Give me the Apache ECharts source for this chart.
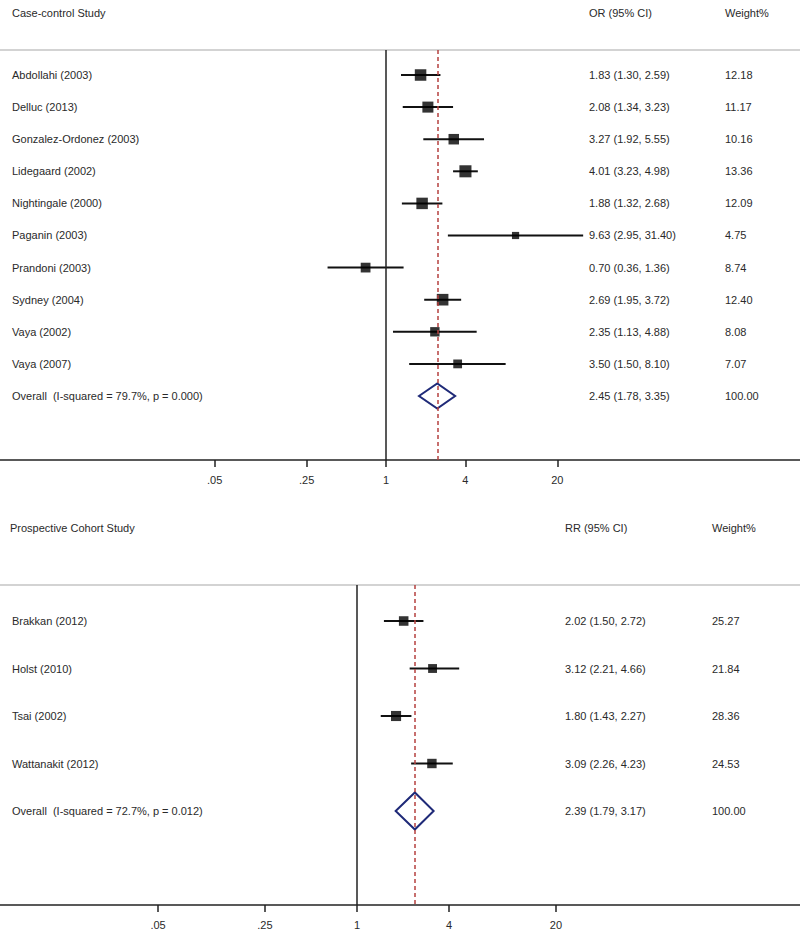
<!DOCTYPE html>
<html>
<head>
<meta charset="utf-8">
<script src="https://cdn.jsdelivr.net/npm/echarts@6/dist/echarts.min.js"></script>
<style>html,body{margin:0;padding:0;background:#fff}#c{width:800px;height:931px}</style>
</head>
<body>
<div id="c"></div>
<script>
// ---------- data ----------
const caseStudies = ['Abdollahi (2003)', 'Delluc (2013)', 'Gonzalez-Ordonez (2003)', 'Lidegaard (2002)', 'Nightingale (2000)', 'Paganin (2003)', 'Prandoni (2003)', 'Sydney (2004)', 'Vaya (2002)', 'Vaya (2007)'];
const caseOR = [1.83, 2.08, 3.27, 4.01, 1.88, 9.63, 0.70, 2.69, 2.35, 3.50];
const caseLo = [1.30, 1.34, 1.92, 3.23, 1.32, 2.95, 0.36, 1.95, 1.13, 1.50];
const caseHi = [2.59, 3.23, 5.55, 4.98, 2.68, 31.40, 1.36, 3.72, 4.88, 8.10];
const caseWeight = [12.18, 11.17, 10.16, 13.36, 12.09, 4.75, 8.74, 12.40, 8.08, 7.07];
const caseOverallLabel = 'Overall  (I-squared = 79.7%, p = 0.000)';
const caseOverall = [2.45, 1.78, 3.35, 100.00]; // est, lo, hi, weight

const cohortStudies = ['Brakkan (2012)', 'Holst (2010)', 'Tsai (2002)', 'Wattanakit (2012)'];
const cohortRR = [2.02, 3.12, 1.80, 3.09];
const cohortLo = [1.50, 2.21, 1.43, 2.26];
const cohortHi = [2.72, 4.66, 2.27, 4.23];
const cohortWeight = [25.27, 21.84, 28.36, 24.53];
const cohortOverallLabel = 'Overall  (I-squared = 72.7%, p = 0.012)';
const cohortOverall = [2.39, 1.79, 3.17, 100.00];

const tickValues = [0.05, 0.25, 1, 4, 20];
const tickLabels = ['.05', '.25', '1', '4', '20'];

// ---------- helpers ----------
const FONT = "11px 'Liberation Sans', Arial, sans-serif";
const TXT = '#2a2a2a';
const ln = Math.log;
const tickLn = tickValues.map(v => ln(v));
const fmt = v => v.toFixed(2);

function rows(names, est, lo, hi, w, ovLabel, ov) {
  const r = names.map((n, i) => ({ name: n, est: est[i], lo: lo[i], hi: hi[i], w: w[i], overall: false }));
  r.push({ name: ovLabel, est: ov[0], lo: ov[1], hi: ov[2], w: ov[3], overall: true });
  return r;
}
const panels = [
  { rows: rows(caseStudies, caseOR, caseLo, caseHi, caseWeight, caseOverallLabel, caseOverall),
    grid: { left: 0, right: 0, top: 50, height: 410 },
    xMin: -386 / 57.2, xMax: 414 / 57.2, yMin: -0.779, yMax: 11.994,
    boxK: 3.3, estX: 589, wX: 725 },
  { rows: rows(cohortStudies, cohortRR, cohortLo, cohortHi, cohortWeight, cohortOverallLabel, cohortOverall),
    grid: { left: 0, right: 0, top: 585, height: 320 },
    xMin: -357 / 66.4, xMax: 443 / 66.4, yMin: -0.758, yMax: 5.979,
    boxK: 1.9, estX: 565, wX: 712 }
];

const grids = [], xAxes = [], yAxes = [], series = [];
panels.forEach((p, pi) => {
  grids.push(p.grid);
  // bottom axis with ticks
  xAxes.push({
    type: 'value', gridIndex: pi, position: 'bottom', min: p.xMin, max: p.xMax,
    splitLine: { show: false },
    axisLine: { show: true, onZero: false, lineStyle: { color: '#222', width: 1.5 } },
    axisTick: { show: true, customValues: tickLn, length: 7, lineStyle: { color: '#222', width: 1.5 } },
    axisLabel: { show: true, customValues: tickLn, margin: 14, color: TXT, fontSize: 11,
      fontFamily: "'Liberation Sans', Arial, sans-serif",
      formatter: v => { const k = tickLn.findIndex(t => Math.abs(t - v) < 1e-6); return k >= 0 ? tickLabels[k] : ''; } }
  });
  yAxes.push({ type: 'value', gridIndex: pi, min: p.yMin, max: p.yMax, inverse: true, show: false });
});
panels.forEach((p, pi) => {
  // top gray border line
  xAxes.push({
    type: 'value', gridIndex: pi, position: 'top', min: p.xMin, max: p.xMax,
    splitLine: { show: false }, axisTick: { show: false }, axisLabel: { show: false },
    axisLine: { show: true, onZero: false, lineStyle: { color: '#c4c4c4', width: 1.5 } }
  });
});

panels.forEach((p, pi) => {
  const ov = p.rows[p.rows.length - 1];
  const studyRows = p.rows.filter(r => !r.overall);
  // CI lines + diamond
  series.push({
    type: 'custom', xAxisIndex: pi, yAxisIndex: pi, z: 3, silent: true,
    data: p.rows.map((r, i) => [ln(r.lo), ln(r.hi), ln(r.est), i, r.overall ? 1 : 0]),
    renderItem: (params, api) => {
      const lo = api.value(0), hi = api.value(1), est = api.value(2), y = api.value(3);
      if (api.value(4) === 1) {
        const pL = api.coord([lo, y]), pR = api.coord([hi, y]);
        const pT = api.coord([est, y - 0.39]), pB = api.coord([est, y + 0.39]);
        return { type: 'polygon', shape: { points: [pL, pT, pR, pB] },
          style: { fill: 'none', stroke: '#1f2a78', lineWidth: 2 } };
      }
      const a = api.coord([lo, y]), b = api.coord([hi, y]);
      return { type: 'line', shape: { x1: a[0], y1: a[1], x2: b[0], y2: b[1] },
        style: { stroke: '#111', lineWidth: 2 } };
    },
    markLine: {
      silent: true, symbol: 'none', animation: false, label: { show: false },
      data: [
        { xAxis: 0, lineStyle: { color: '#222', width: 1.5, type: 'solid' } },
        { xAxis: ln(ov.est), lineStyle: { color: '#b5403f', width: 1.5, type: [4, 3] } }
      ]
    }
  });
  // boxes
  series.push({
    type: 'scatter', xAxisIndex: pi, yAxisIndex: pi, z: 4, silent: true,
    symbol: 'rect',
    data: studyRows.map((r, i) => [ln(r.est), i, r.w]),
    symbolSize: v => p.boxK * Math.sqrt(v[2]),
    itemStyle: { color: '#000' }
  });
  // text columns
  series.push({
    type: 'custom', xAxisIndex: pi, yAxisIndex: pi, z: 5, silent: true, clip: false,
    data: p.rows.map((r, i) => [0, i, r.name, fmt(r.est) + ' (' + fmt(r.lo) + ', ' + fmt(r.hi) + ')', fmt(r.w)]),
    renderItem: (params, api) => {
      const y = api.coord([0, api.value(1)])[1];
      const d = p.rows[params.dataIndex];
      const est = fmt(d.est) + ' (' + fmt(d.lo) + ', ' + fmt(d.hi) + ')';
      const mk = (x, t) => ({ type: 'text', style: { text: t, x: x, y: y, font: FONT, fill: TXT, align: 'left', verticalAlign: 'middle' } });
      return { type: 'group', children: [mk(12, d.name), mk(p.estX, est), mk(p.wX, fmt(d.w))] };
    }
  });
});

const hdr = (x, y, t) => ({ type: 'text', left: x, top: y, style: { text: t, font: FONT, fill: TXT } });

const chart = echarts.init(document.getElementById('c'), null, { renderer: 'svg' });
chart.setOption({
  animation: false,
  backgroundColor: '#fff',
  grid: grids, xAxis: xAxes, yAxis: yAxes, series: series,
  graphic: [
    hdr(12, 7, 'Case-control Study'), hdr(589, 7, 'OR (95% CI)'), hdr(725, 7, 'Weight%'),
    hdr(10, 522, 'Prospective Cohort Study'), hdr(565, 522, 'RR (95% CI)'), hdr(712, 522, 'Weight%')
  ]
});
</script>
</body>
</html>
